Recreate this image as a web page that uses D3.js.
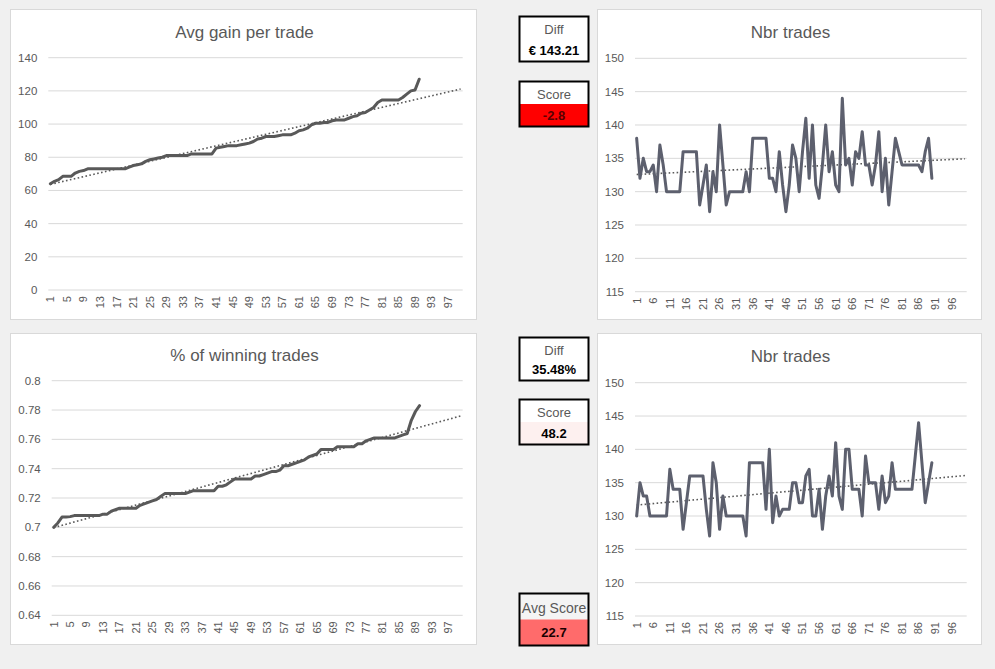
<!DOCTYPE html>
<html>
<head>
<meta charset="utf-8">
<script src="https://cdn.jsdelivr.net/npm/d3@7"></script>
<style>
  html, body { margin: 0; padding: 0; background: #f0f0f0; }
  svg { display: block; font-family: "Liberation Sans", Arial, sans-serif; }
</style>
</head>
<body>
<svg id="chart" width="995" height="669"></svg>
<script>
// values, trade 1..90
const avgGain = [64, 65.5, 66.5, 68.5, 68.5, 68.5, 70.5, 71.5, 72, 73,
    73, 73, 73, 73, 73, 73, 73, 73, 73, 74,
    75, 75.5, 76, 77.5, 78.5, 79, 79.5, 80, 81, 81,
    81, 81, 81, 81, 82, 82, 82, 82, 82, 82,
    85.5, 86, 86.5, 87, 87, 87, 87.5, 88, 88.5, 89.5,
    91, 91.5, 92.5, 92.5, 92.5, 93, 93.5, 93.5, 93.5, 94.5,
    96, 96.5, 97.5, 99.5, 100.5, 100.5, 101, 101, 102, 102.5,
    102.5, 102.5, 103.5, 104.5, 105, 106.5, 107, 108.5, 110, 113,
    114.5, 114.5, 114.5, 114.5, 114.5, 116, 118, 120, 120.5, 127];

const nbrTradesTop = [138, 132, 135, 133, 133, 134, 130, 137, 134, 130,
    130, 130, 130, 130, 136, 136, 136, 136, 136, 128,
    131, 134, 127, 133, 130, 140, 134, 128, 130, 130,
    130, 130, 130, 133, 130, 138, 138, 138, 138, 138,
    132, 132, 130, 136, 131, 127, 131, 137, 135, 130,
    136, 141, 132, 140, 131, 129, 134, 140, 133, 136,
    131, 130, 144, 134, 135, 131, 136, 135, 139, 134,
    134, 131, 134, 139, 130, 135, 128, 133, 138, 136,
    134, 134, 134, 134, 134, 134, 133, 136, 138, 132];

const winPct = [0.700, 0.703, 0.707, 0.707, 0.7073, 0.708, 0.708, 0.708, 0.708, 0.708,
    0.708, 0.708, 0.709, 0.709, 0.711, 0.712, 0.713, 0.713, 0.713, 0.713,
    0.713, 0.715, 0.716, 0.717, 0.718, 0.719, 0.721, 0.723, 0.723, 0.723,
    0.723, 0.723, 0.723, 0.724, 0.725, 0.725, 0.725, 0.725, 0.725, 0.725,
    0.728, 0.728, 0.729, 0.731, 0.733, 0.733, 0.733, 0.733, 0.733, 0.735,
    0.735, 0.736, 0.737, 0.738, 0.738, 0.739, 0.742, 0.742, 0.743, 0.744,
    0.745, 0.746, 0.748, 0.749, 0.750, 0.753, 0.753, 0.753, 0.753, 0.755,
    0.755, 0.755, 0.755, 0.755, 0.757, 0.757, 0.759, 0.760, 0.761, 0.761,
    0.761, 0.761, 0.761, 0.761, 0.762, 0.763, 0.764, 0.773, 0.779, 0.783];

const nbrTradesBottom = [130, 135, 133, 133, 130, 130, 130, 130, 130, 130,
    137, 134, 134, 134, 128, 132, 136, 136, 136, 136,
    136, 131, 127, 138, 135, 128, 133, 130, 130, 130,
    130, 130, 130, 127, 138, 138, 138, 138, 138, 131,
    140, 129, 133, 130, 131, 131, 131, 135, 135, 132,
    132, 136, 137, 130, 130, 134, 128, 133, 136, 133,
    141, 133, 131, 140, 140, 134, 134, 134, 130, 139,
    135, 135, 135, 131, 136, 132, 133, 138, 134, 134,
    134, 134, 134, 134, 139, 144, 138, 132, 135, 138];

const categories = d3.range(1, 101);
const gainTicks = [0, 20, 40, 60, 80, 100, 120, 140];
const pctTicks = [0.64, 0.66, 0.68, 0.7, 0.72, 0.74, 0.76, 0.78, 0.8];
const tradeTicks = [115, 120, 125, 130, 135, 140, 145, 150];

const svg = d3.select("#chart");
const textColor = "#595959";

const panels = [
    { box: [10.5, 9.5, 466, 310], plot: [48.3, 462.7, 57.7, 290], title: "Avg gain per trade", titleY: 38,
      values: avgGain, ticks: gainTicks, fmt: d => d, labelEvery: 4, lineColor: "#595959" },
    { box: [597.5, 9.5, 384, 310], plot: [635, 966.7, 58.3, 291.7], title: "Nbr trades", titleY: 38,
      values: nbrTradesTop, ticks: tradeTicks, fmt: d => d, labelEvery: 5, lineColor: "#5d606e" },
    { box: [10.5, 333.5, 466, 311], plot: [51.7, 462.7, 380.7, 615.3], title: "% of winning trades", titleY: 361,
      values: winPct, ticks: pctTicks, fmt: d => String(+d.toFixed(2)), labelEvery: 4, lineColor: "#595959" },
    { box: [597.5, 333.5, 384, 311], plot: [635, 966.7, 382.7, 616], title: "Nbr trades", titleY: 362,
      values: nbrTradesBottom, ticks: tradeTicks, fmt: d => d, labelEvery: 5, lineColor: "#5d606e" }
];

function linearFit(vals) {
    const xs = vals.map((v, i) => i + 1);
    const mx = d3.mean(xs), my = d3.mean(vals);
    let sxy = 0, sxx = 0;
    for (let i = 0; i < vals.length; i++) {
        sxy += (xs[i] - mx) * (vals[i] - my);
        sxx += (xs[i] - mx) * (xs[i] - mx);
    }
    const b = sxy / sxx;
    return x => my + b * (x - mx);
}

for (const p of panels) {
    const [bx, by, bw, bh] = p.box;
    const [x0, x1, yTop, yBot] = p.plot;
    const g = svg.append("g");

    g.append("rect").attr("x", bx).attr("y", by).attr("width", bw).attr("height", bh)
        .attr("fill", "#fff").attr("stroke", "#d9d9d9");

    g.append("text").attr("x", bx + bw / 2 + 1).attr("y", p.titleY)
        .attr("text-anchor", "middle").attr("font-size", 17).attr("fill", textColor)
        .text(p.title);

    const x = d3.scaleBand().domain(categories).range([x0, x1]);
    const cx = d => x(d) + x.bandwidth() / 2;
    const y = d3.scaleLinear().domain(d3.extent(p.ticks)).range([yBot, yTop]);

    // gridlines
    g.append("g").selectAll("line").data(p.ticks).join("line")
        .attr("x1", x0).attr("x2", x1)
        .attr("y1", d => y(d)).attr("y2", d => y(d))
        .attr("stroke", "#d9d9d9").attr("stroke-width", 1);

    // y labels
    g.append("g").selectAll("text").data(p.ticks).join("text")
        .attr("x", x0 - 11).attr("y", d => y(d)).attr("dy", "0.35em")
        .attr("text-anchor", "end").attr("font-size", 11.5).attr("fill", textColor)
        .text(p.fmt);

    // x labels, rotated
    const xLabels = categories.filter(c => (c - 1) % p.labelEvery === 0);
    g.append("g").selectAll("text").data(xLabels).join("text")
        .attr("transform", d => `translate(${cx(d)},${yBot + 6}) rotate(-90)`)
        .attr("dy", "0.35em").attr("text-anchor", "end")
        .attr("font-size", 11).attr("fill", textColor)
        .text(d => d);

    // trendline
    const fit = linearFit(p.values);
    g.append("line")
        .attr("x1", cx(1)).attr("y1", y(fit(1)))
        .attr("x2", cx(100)).attr("y2", y(fit(100)))
        .attr("stroke", textColor).attr("stroke-width", 1.6)
        .attr("stroke-dasharray", "1.6,2.4");

    const line = d3.line().x((d, i) => cx(i + 1)).y(d => y(d));
    g.append("path").datum(p.values)
        .attr("d", line).attr("fill", "none")
        .attr("stroke", p.lineColor).attr("stroke-width", 3)
        .attr("stroke-linejoin", "round").attr("stroke-linecap", "round");
}

// score boxes
const boxes = [
    { y: 16.5, h: 45, label: "Diff", value: "€ 143.21", fill: "#fff", valueColor: "#000" },
    { y: 81.5, h: 45, label: "Score", value: "-2.8", fill: "#ff0000", valueColor: "#5a0000" },
    { y: 337.5, h: 43, label: "Diff", value: "35.48%", fill: "#fff", valueColor: "#000" },
    { y: 399.5, h: 45, label: "Score", value: "48.2", fill: "#fdf0ef", valueColor: "#000" },
    { y: 593.5, h: 52, label: "Avg Score", value: "22.7", fill: "#ff6b6b", valueColor: "#1a0000", big: true }
];

const boxX = 519.5, boxW = 69;
for (const b of boxes) {
    const g = svg.append("g");
    const half = b.h / 2;
    g.append("rect").attr("x", boxX).attr("y", b.y).attr("width", boxW).attr("height", b.h)
        .attr("fill", b.big ? "#f4f4f4" : "#fff");
    g.append("rect").attr("x", boxX).attr("y", b.y + half).attr("width", boxW).attr("height", half)
        .attr("fill", b.fill);
    g.append("rect").attr("x", boxX).attr("y", b.y).attr("width", boxW).attr("height", b.h)
        .attr("fill", "none").attr("stroke", "#000").attr("stroke-width", 2);
    g.append("text").attr("x", boxX + boxW / 2).attr("y", b.y + half / 2 + 2).attr("dy", "0.35em")
        .attr("text-anchor", "middle").attr("font-size", b.big ? 14 : 13).attr("fill", textColor)
        .text(b.label);
    g.append("text").attr("x", boxX + boxW / 2).attr("y", b.y + half * 1.5).attr("dy", "0.35em")
        .attr("text-anchor", "middle").attr("font-size", 13).attr("font-weight", "bold")
        .attr("fill", b.valueColor)
        .text(b.value);
}
</script>
</body>
</html>
